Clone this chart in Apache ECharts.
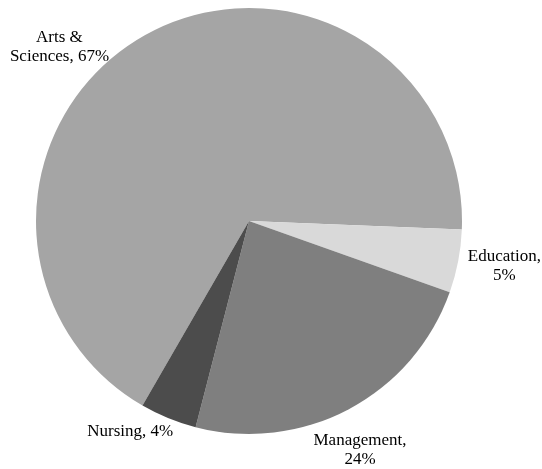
<!DOCTYPE html>
<html>
<head>
<meta charset="utf-8">
<script src="https://cdn.jsdelivr.net/npm/echarts@6/dist/echarts.min.js"></script>
<style>
html,body{margin:0;padding:0;background:#fff;}
#chart{width:542px;height:469px;}
</style>
</head>
<body>
<div id="chart"></div>
<script>
// Data
var categories = ['Arts & Sciences', 'Education', 'Management', 'Nursing'];
var values = [67.3, 4.8, 23.6, 4.3];
var colors = ['#a5a5a5', '#d9d9d9', '#7f7f7f', '#4c4c4c'];
// how each label name is broken and joined to its percentage
var labelNames = ['Arts &\nSciences', 'Education', 'Management', 'Nursing'];
var labelJoins = [', ', ',\n', ',\n', ', '];

var chart = echarts.init(document.getElementById('chart'), null, {renderer: 'canvas'});
var center = [249, 221];
var R = 213;

var pieData = categories.map(function (c, i) {
  return { name: c, value: values[i], itemStyle: { color: colors[i] } };
});
var labelData = categories.map(function (c, i) {
  return { name: c, value: values[i] };
});
var labelShift = [[-65, 52], [2, -3.5], [-10, 1], [-21, -28]];

chart.setOption({
  animation: false,
  series: [
    {
      type: 'pie',
      center: center,
      radius: [0, R],
      startAngle: 240,
      clockwise: true,
      silent: true,
      label: { show: false },
      labelLine: { show: false },
      itemStyle: { borderWidth: 0 },
      data: pieData
    },
    {
      type: 'pie',
      center: center,
      radius: [R, R + 84],
      startAngle: 240,
      clockwise: true,
      silent: true,
      itemStyle: { color: 'rgba(0,0,0,0)', borderWidth: 0 },
      label: {
        show: true,
        position: 'inside',
        color: '#000',
        fontFamily: 'Liberation Serif',
        fontSize: 17,
        lineHeight: 19,
        align: 'center',
        formatter: function (p) {
          return labelNames[p.dataIndex] + labelJoins[p.dataIndex] + Math.round(p.percent) + '%';
        }
      },
      labelLine: { show: false },
      labelLayout: function (p) {
        var s = labelShift[p.dataIndex];
        return { dx: s[0], dy: s[1] };
      },
      data: labelData
    }
  ]
});
</script>
</body>
</html>
